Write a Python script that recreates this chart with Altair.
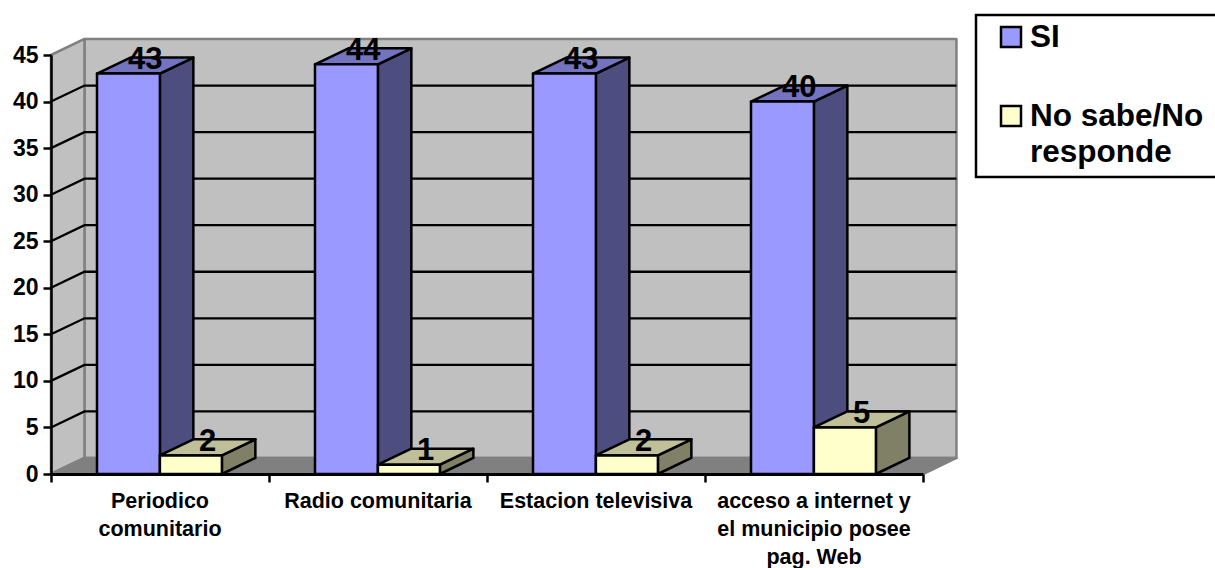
import altair as alt
import pandas as pd

categories = [
    "Periodico\ncomunitario",
    "Radio comunitaria",
    "Estacion televisiva",
    "acceso a internet y\nel municipio posee\npag. Web",
]
si_values = [43, 44, 43, 40]
no_sabe_values = [2, 1, 2, 5]
series_names = ["SI", "No sabe/No\nresponde"]
y_ticks = [0, 5, 10, 15, 20, 25, 30, 35, 40, 45]
grid_levels = [5, 10, 15, 20, 25, 30, 35, 40]

FONT = "Liberation Sans"

# Oblique projection of the depth axis, in data units
DEPTH_X = 0.1535
DEPTH_Y = 1.72
N = len(categories)

# Horizontal extent of each series' bar inside its category slot
SI_SPAN = (0.211, 0.4995)
NS_SPAN = (0.4995, 0.784)

X_SCALE = alt.Scale(domain=[0, N], nice=False, zero=False)
Y_SCALE = alt.Scale(domain=[0, 45], nice=False, zero=False)


def polygon_layer(polys, fill, stroke="black", width=2.5):
    rows = []
    for pid, pts in enumerate(polys):
        for order, (px, py) in enumerate(pts):
            rows.append({"poly": pid, "order": order, "px": px, "py": py})
    return (
        alt.Chart(pd.DataFrame(rows))
        .mark_line(
            interpolate="linear-closed",
            fill=fill,
            stroke=stroke,
            strokeWidth=width,
            strokeJoin="round",
        )
        .encode(
            x=alt.X("px:Q", scale=X_SCALE, axis=None),
            y=alt.Y("py:Q", scale=Y_SCALE, axis=None),
            detail="poly:N",
            order="order:Q",
        )
    )


def bar_faces(values, span):
    front, top, side = [], [], []
    for i, v in enumerate(values):
        x0, x1 = i + span[0], i + span[1]
        front.append([(x0, 0), (x1, 0), (x1, v), (x0, v)])
        top.append([(x0, v), (x1, v), (x1 + DEPTH_X, v + DEPTH_Y), (x0 + DEPTH_X, v + DEPTH_Y)])
        side.append([(x1, 0), (x1 + DEPTH_X, DEPTH_Y), (x1 + DEPTH_X, v + DEPTH_Y), (x1, v)])
    return front, top, side


# Walls and floor
back_wall = polygon_layer(
    [[(DEPTH_X, DEPTH_Y), (N + DEPTH_X, DEPTH_Y), (N + DEPTH_X, 45 + DEPTH_Y), (DEPTH_X, 45 + DEPTH_Y)]],
    "#c0c0c0", "#808080",
)
side_wall = polygon_layer(
    [[(0, 0), (DEPTH_X, DEPTH_Y), (DEPTH_X, 45 + DEPTH_Y), (0, 45)]],
    "#c0c0c0", "#808080",
)
floor = polygon_layer(
    [[(0, 0), (N, 0), (N + DEPTH_X, DEPTH_Y), (DEPTH_X, DEPTH_Y)]],
    "#808080", "#808080",
)

# Gridlines wrap from the side wall onto the back wall
grid_rows = []
for level in grid_levels:
    for order, (px, py) in enumerate(
        [(0, level), (DEPTH_X, level + DEPTH_Y), (N + DEPTH_X, level + DEPTH_Y)]
    ):
        grid_rows.append({"level": level, "order": order, "px": px, "py": py})
grid = (
    alt.Chart(pd.DataFrame(grid_rows))
    .mark_line(color="black", strokeWidth=2.3)
    .encode(
        x=alt.X("px:Q", scale=X_SCALE, axis=None),
        y=alt.Y("py:Q", scale=Y_SCALE, axis=None),
        detail="level:N",
        order="order:Q",
    )
)

si_front, si_top, si_side = bar_faces(si_values, SI_SPAN)
ns_front, ns_top, ns_side = bar_faces(no_sabe_values, NS_SPAN)

bar_layers = [
    polygon_layer(si_side, "#4d4d80"),
    polygon_layer(si_top, "#7373bf"),
    polygon_layer(si_front, "#9999ff"),
    polygon_layer(ns_side, "#808066"),
    polygon_layer(ns_top, "#bfbf99"),
    polygon_layer(ns_front, "#ffffcc"),
]

# Value labels sit above the centre of each bar's footprint
label_rows = []
for i in range(N):
    label_rows.append({"px": i + (SI_SPAN[0] + SI_SPAN[1] + DEPTH_X) / 2, "py": si_values[i], "v": str(si_values[i])})
    label_rows.append({"px": i + (NS_SPAN[0] + NS_SPAN[1] + DEPTH_X) / 2, "py": no_sabe_values[i], "v": str(no_sabe_values[i])})
value_labels = (
    alt.Chart(pd.DataFrame(label_rows))
    .mark_text(font=FONT, fontWeight="bold", fontSize=31, color="black", baseline="alphabetic", dy=-4.5)
    .encode(
        x=alt.X("px:Q", scale=X_SCALE, axis=None),
        y=alt.Y("py:Q", scale=Y_SCALE, axis=None),
        text="v:N",
    )
)

# Real axes: ticks at category boundaries on x, every five units on y
axes = (
    alt.Chart(pd.DataFrame({"px": [0], "py": [0]}))
    .mark_point(opacity=0)
    .encode(
        x=alt.X(
            "px:Q",
            scale=X_SCALE,
            axis=alt.Axis(
                values=list(range(N + 1)), labels=False, title=None, grid=False,
                tickSize=8, tickWidth=2.5, tickColor="black",
                domainWidth=3, domainColor="black", zindex=2,
            ),
        ),
        y=alt.Y(
            "py:Q",
            scale=Y_SCALE,
            axis=alt.Axis(
                values=y_ticks, title=None, grid=False,
                tickSize=8, tickWidth=2.5, tickColor="black",
                domainWidth=2.5, domainColor="black", zindex=2,
                labelFont=FONT, labelFontWeight="bold", labelFontSize=23,
                labelColor="black", labelPadding=5,
            ),
        ),
    )
)

# Category names, centred under their slots
category_labels = (
    alt.Chart(pd.DataFrame({"px": [i + 0.5 for i in range(N)], "py": [0] * N, "name": categories}))
    .mark_text(
        font=FONT, fontWeight="bold", fontSize=21.5, color="black",
        baseline="alphabetic", lineBreak="\n", lineHeight=28, dy=33.5,
    )
    .encode(
        x=alt.X("px:Q", scale=X_SCALE, axis=None),
        y=alt.Y("py:Q", scale=Y_SCALE, axis=None),
        text="name:N",
    )
)

# Legend panel, placed in pixels relative to the plot area
LEFT, TOP = 51, 55
legend_box = (
    alt.Chart(pd.DataFrame({"k": [0]}))
    .mark_rect(fill="white", stroke="black", strokeWidth=2.5)
    .encode(
        x=alt.value(976 - LEFT), x2=alt.value(1225 - LEFT),
        y=alt.value(15 - TOP), y2=alt.value(177 - TOP),
    )
)
legend_items = []
for name, fill, sw_top, baseline in zip(
    series_names, ["#9999ff", "#ffffcc"], [27, 106], [47, 126]
):
    legend_items.append(
        alt.Chart(pd.DataFrame({"k": [0]}))
        .mark_rect(fill=fill, stroke="black", strokeWidth=2.5)
        .encode(
            x=alt.value(1001 - LEFT), x2=alt.value(1021 - LEFT),
            y=alt.value(sw_top - TOP), y2=alt.value(sw_top + 20 - TOP),
        )
    )
    legend_items.append(
        alt.Chart(pd.DataFrame({"name": [name]}))
        .mark_text(
            font=FONT, fontWeight="bold", fontSize=31.5, color="black", align="left",
            baseline="alphabetic", lineBreak="\n", lineHeight=36,
        )
        .encode(x=alt.value(1030 - LEFT), y=alt.value(baseline - TOP), text="name:N")
    )

chart = (
    alt.layer(
        axes, back_wall, side_wall, floor, grid, *bar_layers,
        value_labels, category_labels, legend_box, *legend_items,
    )
    .resolve_axis(x="independent", y="independent")
    .properties(
        width=872,
        height=419,
        autosize=alt.AutoSizeParams(type="none"),
        padding={"left": LEFT, "top": TOP, "right": 1215 - 923, "bottom": 568 - 474},
        background="white",
    )
    .configure_view(stroke=None)
)

chart.save("out.html", embed_options={"renderer": "svg", "actions": False})
